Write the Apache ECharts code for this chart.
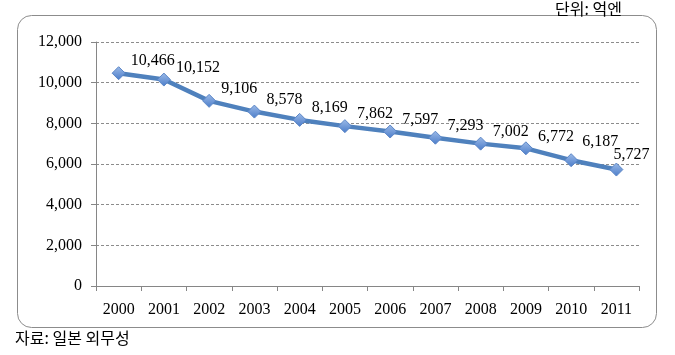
<!DOCTYPE html>
<html><head><meta charset="utf-8">
<script src="https://cdn.jsdelivr.net/npm/echarts@6/dist/echarts.min.js"></script>
<style>html,body{margin:0;padding:0;background:#fff}#c{width:675px;height:355px}</style>
</head><body><div id="c"></div>
<script>
const years = ['2000','2001','2002','2003','2004','2005','2006','2007','2008','2009','2010','2011'];
const values = [10466,10152,9106,8578,8169,7862,7597,7293,7002,6772,6187,5727];
const unitText = '단위: 억엔';
const sourceText = '자료: 일본 외무성';

const serif = '"Liberation Serif","DejaVu Serif",serif';
const chart = echarts.init(document.getElementById('c'), null, {renderer:'canvas'});
const n = values.length;
const data = values.map((v,i)=>{
  const d = {value:v};
  if (i === n-1) d.label = {position:'top', offset:[15,5]};
  if (i === n-2) d.label = {offset:[-1,-18]};
  return d;
});
chart.setOption({
  animation:false,
  graphic:[
    {type:'rect', shape:{x:17.5,y:15.5,width:639,height:312,r:14}, style:{fill:'#fff',stroke:'#8c8c8c',lineWidth:1}, z:-10},
    {type:'text', left:555, top:1, style:{text:unitText, font:'16px "Noto Sans CJK KR"', fill:'#000'}},
    {type:'text', left:15, top:330, style:{text:sourceText, font:'16px "Noto Sans CJK KR"', fill:'#000'}}
  ],
  grid:{left:96, right:36, top:42, bottom:69},
  xAxis:{
    type:'category', data:years, boundaryGap:true,
    axisLine:{lineStyle:{color:'#868686'}},
    axisTick:{show:true, length:5, lineStyle:{color:'#868686'}},
    axisLabel:{color:'#000', fontFamily:serif, fontSize:16, margin:16}
  },
  yAxis:{
    type:'value', min:0, max:12000, interval:2000,
    axisLine:{show:true, lineStyle:{color:'#868686'}},
    axisTick:{show:true, length:5, lineStyle:{color:'#868686'}},
    splitLine:{lineStyle:{color:'#8c8c8c', type:[3,2]}},
    axisLabel:{color:'#000', fontFamily:serif, fontSize:16, margin:14,
      formatter:v=>v.toLocaleString('en-US')}
  },
  series:[{
    type:'line', data:data,
    lineStyle:{color:'#4f81bd', width:4.5},
    symbol:'diamond', symbolSize:13,
    itemStyle:{color:new echarts.graphic.LinearGradient(0,0,0,1,[{offset:0,color:'#9dbbe8'},{offset:1,color:'#4a7cc9'}]), borderColor:'#5b86c7', borderWidth:1},
    label:{show:true, position:'right', offset:[0,-12], color:'#000', fontFamily:serif, fontSize:16,
      formatter:p=>p.value.toLocaleString('en-US')}
  }]
});
</script></body></html>
